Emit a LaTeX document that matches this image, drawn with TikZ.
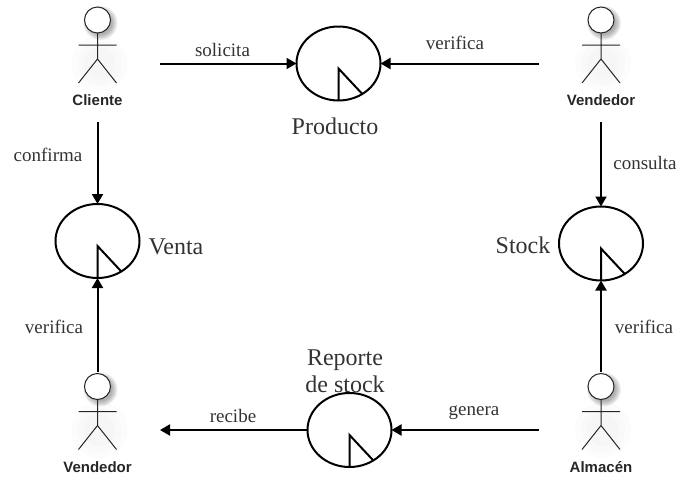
\documentclass[tikz,border=0pt]{standalone}
\usepackage{fontspec}
\setmainfont{Liberation Serif}
\newfontfamily\actorfont{Liberation Sans}
\usetikzlibrary{shapes.geometric,arrows.meta}
\tikzset{
	entity/.style={draw, ellipse, line width=2pt, minimum width=84pt, minimum height=74pt, inner sep=0pt, outer sep=0pt},
	actorbox/.style={minimum width=125pt, minimum height=117pt, inner sep=0pt, outer sep=0pt},
	actorname/.style={font=\actorfont\fontsize{15}{17}\selectfont\bfseries, text=black!85},
	flowlabel/.style={font=\fontsize{19}{21}\selectfont, text=black!80},
	entitylabel/.style={font=\fontsize{24}{27}\selectfont, text=black!80, align=center},
	flow/.style={-{Triangle[length=10pt,width=11pt]}, line width=2pt}
}
% Stick figure inside an invisible box: name, x, y, label
\newcommand{\actorfig}[4]{
	\node (#1) [actorbox] at (#2,#3) {};
	\foreach \rad in {17,16,15,14,13,12}
		\fill [black, opacity=0.06] (#2+3,#3-40.5) circle (\rad);
	\foreach \rad in {28,22,16}
		\fill [black, opacity=0.012] (#2+2,#3) circle (\rad);
	\draw [draw=black!85, fill=white, line width=1pt] (#2,#3-43.5) circle (13);
	\draw [draw=black!85, line width=1pt] (#2,#3-30.5) -- (#2,#3-4.5)
		(#2-19,#3-18.5) -- (#2+19,#3-18.5)
		(#2-19,#3+19.5) -- (#2,#3-4.5) -- (#2+19,#3+19.5);
	\node (#1name) [actorname] at (#2,#3+37) {#4};
}
% Clock hand of an entity
\newcommand{\clockhand}[1]{
	\draw [line width=2pt, line join=miter] (#1.south) -- ([yshift=-5pt]#1.center) -- (#1.-52);
}
\begin{document}
\begin{tikzpicture}[x=1pt,y=-1pt]
		\useasboundingbox (0,0) rectangle (689,477);
		% Actors
		\actorfig{cliente}{97.5}{63.5}{Cliente}
		\actorfig{vendedortop}{601}{63.5}{Vendedor}
		\actorfig{vendedorlow}{97.5}{430}{Vendedor}
		\actorfig{almacen}{601}{430}{Almacén}
		% Entities
		\node (producto) [entity] at (338.5,63.5) {};
		\node (venta) [entity] at (97.5,241) {};
		\node (stock) [entity] at (601,243.5) {};
		\node (reporte) [entity] at (349.5,430) {};
		\clockhand{producto}
		\clockhand{venta}
		\clockhand{stock}
		\clockhand{reporte}
		% Entity labels
		\node (productotxt) [entitylabel] at (335,126) {Producto};
		\node (ventatxt) [entitylabel] at (176,247) {Venta};
		\node (stocktxt) [entitylabel] at (523,245) {Stock};
		\node (reportetxt) [entitylabel] at (345,371) {Reporte\\de stock};
		% Connectors
		\draw [flow] (cliente.east) -- (producto.west);
		\draw [flow] (vendedortop.west) -- (producto.east);
		\draw [flow] (cliente.south) -- (venta.north);
		\draw [flow] (vendedortop.south) -- (stock.north);
		\draw [flow] (vendedorlow.north) -- (venta.south);
		\draw [flow] (almacen.north) -- (stock.south);
		\draw [flow] (reporte.west) -- (vendedorlow.east);
		\draw [flow] (almacen.west) -- (reporte.east);
		% Connector labels
		\node (solicitatxt) [flowlabel] at (222.5,50) {solicita};
		\node (verificatop) [flowlabel] at (455,43) {verifica};
		\node (confirmatxt) [flowlabel] at (48,155) {confirma};
		\node (consultatxt) [flowlabel] at (645,163) {consulta};
		\node (verificaleft) [flowlabel] at (54,327) {verifica};
		\node (verificaright) [flowlabel] at (644,327) {verifica};
		\node (recibetxt) [flowlabel] at (233,416) {recibe};
		\node (generatxt) [flowlabel] at (474,413) {genera};
		\end{tikzpicture}
\end{document}
